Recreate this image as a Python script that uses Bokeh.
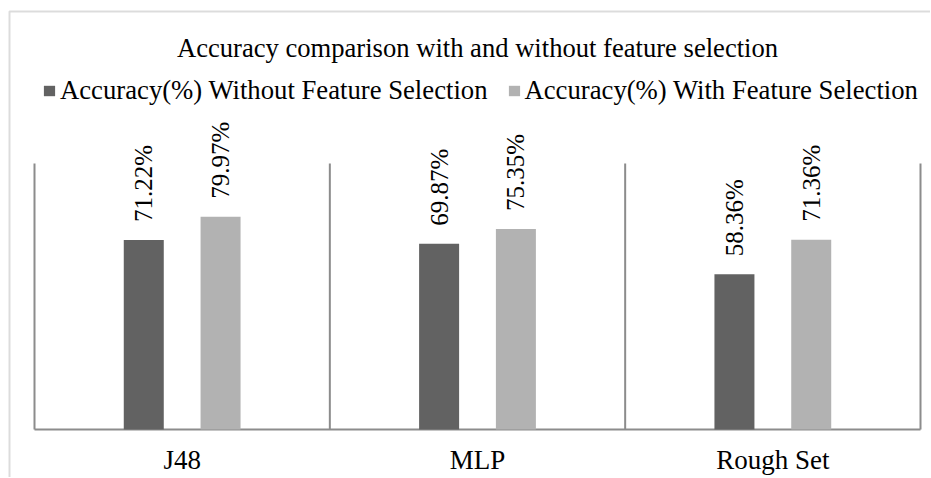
import numpy as np
from bokeh.plotting import figure
from bokeh.models import (ColumnDataSource, Range1d, Legend, LegendItem, Label, BoxAnnotation)
from bokeh.transform import dodge
from bokeh.core.properties import value
from bokeh.embed import file_html
from bokeh.resources import INLINE

# ---- data ----
categories = ["J48", "MLP", "Rough Set"]
without_fs = [71.22, 69.87, 58.36]
with_fs = [79.97, 75.35, 71.36]
series_names = ["Accuracy(%) Without Feature Selection", "Accuracy(%) With Feature Selection"]
title_text = "Accuracy comparison with and without feature selection"

FONT = "Liberation Serif"
DARK = "#626262"
LIGHT = "#b2b2b2"
GRAY = "#8c8c8c"

# ---- layout (pixels) ----
W, H = 930, 477
PX_LEFT, PX_RIGHT = 34, 920      # plot-area left/right edges
PX_BASE, PX_TOP = 429, 163       # pixel rows of 0% and 100%
n = len(categories)
u = (PX_RIGHT - PX_LEFT) / n     # px per category
v = (PX_BASE - PX_TOP) / 100.0   # px per percent

x_range = Range1d(-PX_LEFT / u, n + (W - PX_RIGHT) / u)
y_range = Range1d(-(H - PX_BASE) / v, PX_BASE / v)

xc = np.arange(n) + 0.5
bounds = np.arange(n + 1)
src = ColumnDataSource(data=dict(
    x=xc, cat=categories, a=without_fs, b=with_fs,
    la=[f"{val:.2f}%" for val in without_fs],
    lb=[f"{val:.2f}%" for val in with_fs],
))

p = figure(width=W, height=H, output_backend="svg", toolbar_location=None,
           x_range=x_range, y_range=y_range,
           min_border_left=0, min_border_right=0, min_border_top=0, min_border_bottom=0)
p.outline_line_color = None
p.background_fill_color = "white"
p.border_fill_color = "white"
p.xgrid.visible = False
p.ygrid.visible = False
p.xaxis.visible = False
p.yaxis.visible = False

# outer chart border (right/bottom edges lie beyond the picture)
p.add_layout(BoxAnnotation(left=(9 - PX_LEFT) / u, right=x_range.end + 1,
                           top=(PX_BASE - 11) / v, bottom=y_range.start - 10,
                           fill_alpha=0, line_color=GRAY, line_width=2, level="underlay"))

# category separators and base line
p.segment(x0=bounds, y0=0, x1=bounds, y1=100, line_color=GRAY, line_width=2)
p.segment(x0=bounds[:1], y0=0, x1=bounds[-1:], y1=0, line_color=GRAY, line_width=2)

off = 0.13
bw = 40 / u
r1 = p.vbar(x=dodge("x", -off), top="a", width=bw, source=src, fill_color=DARK, line_color=None)
r2 = p.vbar(x=dodge("x", off), top="b", width=bw, source=src, fill_color=LIGHT, line_color=None)

for col, lab, d in (("a", "la", -off), ("b", "lb", off)):
    p.text(x=dodge("x", d), y=col, text=lab, source=src,
           angle=np.pi / 2, text_align="left", text_baseline="middle",
           y_offset=-18, text_font=value(FONT), text_font_size="25px", text_color="black")

# category names under the base line
p.text(x="x", y=0, text="cat", source=src, y_offset=30,
       text_align="center", text_baseline="middle",
       text_font=value(FONT), text_font_size="27px", text_color="black")

# title
p.add_layout(Label(x=n / 2, y=(PX_BASE - 47) / v, text=title_text,
                   text_align="center", text_baseline="middle",
                   text_font=FONT, text_font_size="26.6px", text_color="black"))

# legend
legend = Legend(items=[LegendItem(label=series_names[0], renderers=[r1]),
                       LegendItem(label=series_names[1], renderers=[r2])],
                orientation="horizontal", location=(42, H - 106),
                label_text_font=FONT, label_text_font_size="26.7px", label_text_color="black",
                glyph_width=14, glyph_height=13, label_standoff=4, spacing=19,
                padding=0, margin=0, border_line_color=None, background_fill_alpha=0)
p.add_layout(legend)

open("out.html", "w").write(file_html(p, INLINE))
